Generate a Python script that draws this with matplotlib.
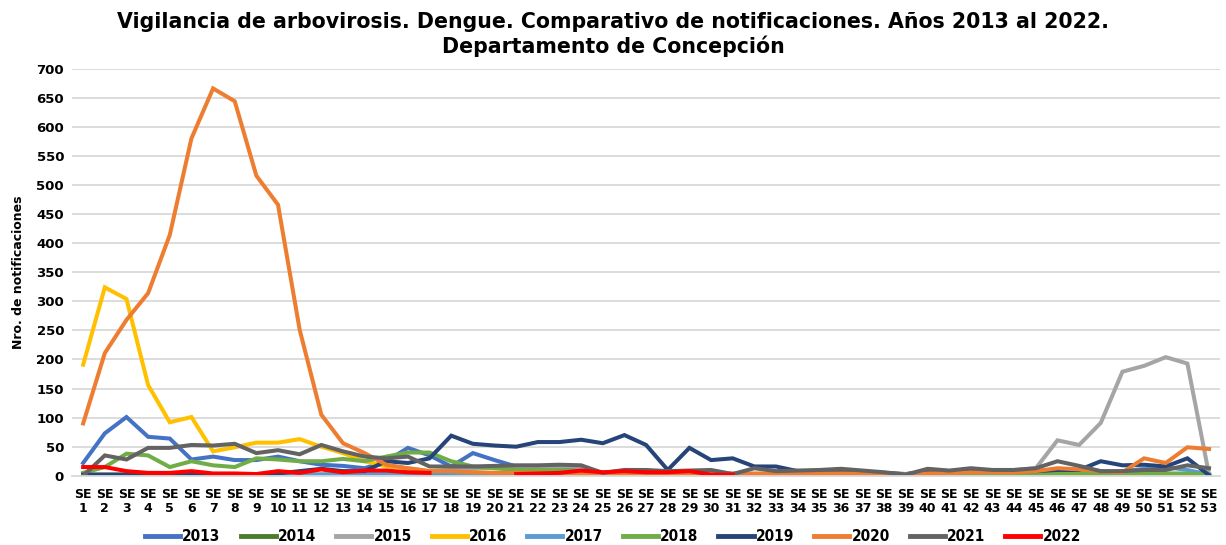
import numpy as np
import matplotlib
matplotlib.use("Agg")
import matplotlib.pyplot as plt
from matplotlib import font_manager

# semanas epidemiologicas
weeks = list(range(1, 54))
week_labels = ["SE\n{}".format(w) for w in weeks]

years = ["2013", "2014", "2015", "2016", "2017", "2018", "2019", "2020", "2021", "2022"]
colors = ["#4472C4", "#4E7A2E", "#A5A5A5", "#FFC000", "#5B9BD5",
          "#70AD47", "#264478", "#ED7D31", "#636363", "#FF0000"]

nan = np.nan

s2013 = [22, 73, 101, 67, 64, 28, 33, 27, 27, 33, 25, 19, 17, 13, 25, 48, 35, 16, 39, 27,
         16, 12, 12, 12, 5, 3, 3, 2, 2, 2, 2, 2, 2, 2, 2, 2, 2, 2, 2, 2,
         2, 2, 2, 2, 3, 3, 3, 3, 3, 3, 3, 3, 2]
s2014 = [2, 2, 2, 2, 2, 2, 2, 2, 2, 2, 2, 2, 2, 2, 2, 2, 2, 2, 2, 2,
         2, 2, 2, 2, 2, 2, 2, 2, 2, 2, 2, 2, 2, 2, 2, 2, 2, 2, 2, 2,
         2, 2, 2, 2, 2, 2, 2, 2, 2, 2, 2, 2, 1]
s2015 = [1, 1, 1, 1, 1, 1, 1, 1, 1, 1, 2, 2, 3, 3, 3, 5, 8, 10, 12, 14,
         15, 16, 17, 15, 5, 5, 5, 4, 4, 4, 3, 3, 3, 3, 3, 3, 3, 3, 2, 3,
         4, 5, 6, 10, 13, 61, 53, 91, 179, 189, 204, 193, 2]
s2016 = [191, 324, 304, 156, 92, 101, 42, 49, 57, 57, 63, 50, 39, 25, 16, 13, 8, 6, 5, 5,
         4, 4, 4, 4, 3, 3, 3, 3, 3, 3, 3, 3, 3, 3, 3, 3, 3, 3, 2, 2,
         2, 2, 2, 2, 2, 2, 2, 2, 2, 2, 2, 2, 1]
s2017 = [1, 1, 1, 1, 1, 1, 1, 1, 1, 1, 1, 2, 3, 4, 5, 5, 5, 5, 5, 4,
         3, 3, 3, 3, 2, 2, 2, 2, 2, 2, 2, 2, 2, 2, 2, 2, 2, 2, 2, 2,
         2, 2, 2, 3, 4, 5, 6, 6, 8, 12, 15, 10, 2]
s2018 = [5, 15, 38, 35, 15, 25, 18, 15, 30, 28, 25, 25, 29, 25, 33, 40, 40, 25, 16, 13,
         10, 10, 10, 8, 5, 4, 4, 3, 3, 3, 3, 3, 3, 3, 3, 3, 3, 3, 2, 3,
         3, 3, 3, 3, 4, 4, 4, 4, 4, 4, 4, 4, 2]
s2019 = [2, 2, 2, 2, 2, 2, 2, 2, 3, 4, 8, 12, 8, 8, 25, 22, 30, 69, 55, 52,
         50, 58, 58, 62, 56, 70, 53, 10, 48, 27, 30, 16, 16, 8, 8, 8, 6, 5, 3, 8,
         8, 8, 8, 8, 8, 10, 10, 25, 18, 19, 16, 30, 1]
s2020 = [90, 211, 268, 314, 414, 580, 666, 644, 516, 466, 251, 105, 56, 39, 19, 13, 8, 8, 6, 5,
         5, 5, 4, 4, 4, 4, 4, 4, 4, 4, 4, 4, 4, 4, 4, 4, 4, 3, 3, 4,
         5, 6, 6, 6, 8, 13, 11, 8, 6, 30, 22, 49, 46]
s2021 = [0, 35, 28, 48, 48, 53, 52, 55, 39, 44, 37, 53, 42, 33, 30, 33, 16, 16, 16, 17,
         18, 18, 19, 18, 5, 10, 10, 8, 9, 10, 3, 13, 8, 9, 10, 12, 9, 6, 2, 12,
         9, 13, 10, 10, 13, 25, 17, 8, 8, 10, 10, 18, 13]
# 2022: sin datos SE 18-20, y la serie termina en SE 31
s2022 = [15, 15, 8, 5, 5, 8, 4, 4, 3, 8, 5, 11, 6, 9, 9, 6, 5, nan, nan, nan,
         3, 4, 5, 9, 6, 8, 6, 6, 8, 2, 2, nan, nan, nan, nan, nan, nan, nan, nan, nan,
         nan, nan, nan, nan, nan, nan, nan, nan, nan, nan, nan, nan, nan]

series = [s2013, s2014, s2015, s2016, s2017, s2018, s2019, s2020, s2021, s2022]

# legend uses a narrow bold face, look for one among the installed fonts
leg_prop = None
for f in font_manager.fontManager.ttflist:
    low = f.fname.lower()
    if ("narrow" in low or "condensed" in low) and "bold" in low and "oblique" not in low \
            and "italic" not in low:
        leg_prop = font_manager.FontProperties(fname=f.fname, size=11)
        break
if leg_prop is None:
    leg_prop = font_manager.FontProperties(family="DejaVu Sans", weight="bold", size=9.5)

fig = plt.figure(figsize=(12.26, 5.45), dpi=100)
ax = fig.add_axes([0.059, 0.127, 0.936, 0.747])

for year, vals, col in zip(years, series, colors):
    ax.plot(weeks, vals, color=col, lw=2.9, label=year, solid_joinstyle="miter")

ax.set_xlim(0.5, 53.5)
ax.set_ylim(0, 700)
ax.set_yticks(np.arange(0, 701, 50))
ax.tick_params(axis="y", labelsize=9.5, length=0, pad=6)
for lab in ax.get_yticklabels():
    lab.set_fontweight("bold")
ax.set_xticks(weeks)
ax.set_xticklabels(week_labels, fontsize=9, fontweight="bold", linespacing=1.05)
ax.tick_params(axis="x", length=0, pad=9)

ax.grid(axis="y", color="#D9D9D9", lw=1.3)
ax.set_axisbelow(True)
for sp in ["top", "right", "left"]:
    ax.spines[sp].set_visible(False)
ax.spines["bottom"].set_color("#D9D9D9")
ax.spines["bottom"].set_linewidth(1.3)

ax.set_ylabel("Nro. de notificaciones", fontsize=9, fontweight="bold", labelpad=8)

fig.suptitle("Vigilancia de arbovirosis. Dengue. Comparativo de notificaciones. Años 2013 al 2022.\n"
             "Departamento de Concepción", fontsize=14.8, fontweight="bold", y=0.978,
             linespacing=1.2)

leg = fig.legend(loc="center", bbox_to_anchor=(0.5, 0.015), ncol=10, frameon=False,
                 prop=leg_prop, handlelength=2.3, handletextpad=0.15, columnspacing=1.3)
for h in leg.get_lines():
    h.set_linewidth(3.5)

fig.savefig("out.png", dpi=100)
